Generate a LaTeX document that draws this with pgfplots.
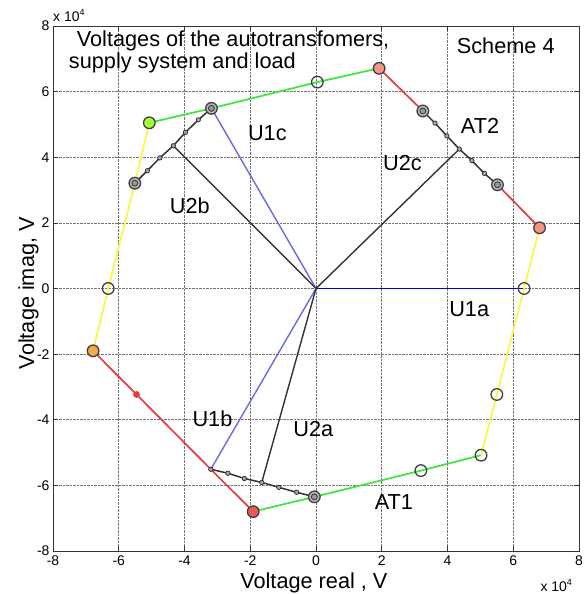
\documentclass[border=0pt]{standalone}
\usepackage{pgfplots}
\pgfplotsset{compat=1.18}
\usepackage{fontspec}
\setmainfont{Liberation Sans}

\definecolor{lgreen}{RGB}{60,230,60}
\definecolor{lred}{RGB}{228,60,60}
\definecolor{lyellow}{RGB}{250,245,70}
\definecolor{dblue}{RGB}{0,0,215}
\definecolor{lblue}{RGB}{105,105,230}
\definecolor{salmon}{RGB}{240,150,130}
\definecolor{orng}{RGB}{240,170,80}

\newcommand{\lbl}{\fontsize{21.7}{24}\selectfont}

\begin{document}
\begin{tikzpicture}
\useasboundingbox (-53pt,-43pt) rectangle (531pt,551pt);
\begin{axis}[
    at={(0,0)}, anchor=south west,
    scale only axis, clip=false,
    width=526pt, height=525pt,
    xmin=-8, xmax=8, ymin=-8, ymax=8,
    xtick={-8,-6,...,8}, ytick={-8,-6,...,8},
    tick align=inside, tick pos=both,
    xticklabel pos=lower, yticklabel pos=left,
    major tick length=5pt,
    grid=major,
    major grid style={densely dotted, black!55, line width=0.7pt},
    axis line style={black!80, line width=0.8pt},
    tick style={black!80, line width=0.7pt},
    ticklabel style={font=\fontsize{14}{14}\selectfont},
    /pgf/number format/assume math mode=true,
    xticklabel style={yshift=-1pt},
    every axis plot/.append style={line width=1.7pt},
]

% phase voltages from the centre
\addplot[dblue, line width=1.4pt] coordinates {(0,0) (6.33,0)};
\addplot[lblue, line width=1.4pt] coordinates {(0,0) (-3.18,5.49)};
\addplot[lblue, line width=1.4pt] coordinates {(0,0) (-3.2,-5.51)};
\addplot[black!80, line width=1.4pt] coordinates {(0,0) (4.36,4.25)};
\addplot[black!80, line width=1.4pt] coordinates {(0,0) (-4.34,4.35)};
\addplot[black!80, line width=1.4pt] coordinates {(0,0) (-1.65,-5.91)};

% supply system sides
\addplot[lgreen] coordinates {(-5.07,5.05) (-3.18,5.49) (0.04,6.29) (1.92,6.71)};
\addplot[lgreen] coordinates {(5.02,-5.08) (3.19,-5.55) (-0.05,-6.35) (-1.91,-6.8)};
\addplot[lred] coordinates {(1.92,6.71) (3.25,5.41)};
\addplot[lred] coordinates {(5.52,3.16) (6.8,1.85)};
\addplot[lred] coordinates {(-6.78,-1.9) (-5.46,-3.23) (-3.2,-5.51) (-1.91,-6.8)};
\addplot[lyellow] coordinates {(6.8,1.85) (6.33,0) (5.5,-3.23) (5.02,-5.08)};
\addplot[lyellow] coordinates {(-6.78,-1.9) (-6.32,0) (-5.51,3.21) (-5.07,5.05)};

% autotransformer windings
\addplot[black!80, line width=1.5pt, mark=*, mark size=2.2pt,
    mark options={fill=gray!70, draw=black!85, line width=0.7pt}]
    coordinates {(3.25,5.41) (3.62,5.04) (3.98,4.65) (4.36,4.25) (4.74,3.9) (5.12,3.51) (5.52,3.16)};
\addplot[black!80, line width=1.5pt, mark=*, mark size=2.2pt,
    mark options={fill=gray!70, draw=black!85, line width=0.7pt}]
    coordinates {(-5.51,3.21) (-5.13,3.59) (-4.75,3.98) (-4.34,4.35) (-3.97,4.76) (-3.58,5.14) (-3.18,5.49)};
\addplot[black!80, line width=1.5pt, mark=*, mark size=2.2pt,
    mark options={fill=gray!70, draw=black!85, line width=0.7pt}]
    coordinates {(-3.2,-5.51) (-2.68,-5.63) (-2.18,-5.79) (-1.65,-5.91) (-1.13,-6.06) (-0.59,-6.21) (-0.05,-6.35)};
\addplot[only marks, mark=*, mark size=2.5pt, mark options={fill=lred, draw=lred}]
    coordinates {(-5.46,-3.23)};

% node circles
\addplot[only marks, mark=o, mark size=5.8pt, mark options={draw=black!75, line width=1.3pt}]
    coordinates {(6.33,0) (5.5,-3.23) (5.02,-5.08) (3.19,-5.55) (0.04,6.29) (-6.32,0)};
\addplot[only marks, mark=*, mark size=5.8pt, mark options={fill=gray!55, draw=black!75, line width=1.3pt}]
    coordinates {(3.25,5.41) (5.52,3.16) (-3.18,5.49) (-5.51,3.21) (-0.05,-6.35)};
\addplot[only marks, mark=*, mark size=3pt, mark options={fill=gray!80, draw=black!80, line width=0.8pt}]
    coordinates {(3.25,5.41) (5.52,3.16) (-3.18,5.49) (-5.51,3.21) (-0.05,-6.35)};
\addplot[only marks, mark=*, mark size=5.8pt, mark options={fill=salmon, draw=black!75, line width=1.3pt}]
    coordinates {(1.92,6.71) (6.8,1.85)};
\addplot[only marks, mark=*, mark size=5.8pt, mark options={fill=orng, draw=black!75, line width=1.3pt}]
    coordinates {(-6.78,-1.9)};
\addplot[only marks, mark=*, mark size=5.8pt, mark options={fill=lred!85, draw=black!75, line width=1.3pt}]
    coordinates {(-1.91,-6.8)};
\addplot[only marks, mark=*, mark size=5.8pt, mark options={fill=green!45!yellow!80, draw=black!75, line width=1.3pt}]
    coordinates {(-5.07,5.05)};

% labels
\node[font=\lbl] at (axis cs:-1.48,4.73) {U1c};
\node[font=\lbl] at (axis cs:-3.84,2.52) {U2b};
\node[font=\lbl] at (axis cs:2.63,3.82) {U2c};
\node[font=\lbl] at (axis cs:4.99,4.96) {AT2};
\node[font=\lbl] at (axis cs:4.66,-0.63) {U1a};
\node[font=\lbl] at (axis cs:-3.15,-3.98) {U1b};
\node[font=\lbl] at (axis cs:-0.08,-4.29) {U2a};
\node[font=\lbl] at (axis cs:2.37,-6.5) {AT1};
\node[font=\lbl, anchor=base west, inner sep=0pt] at (axis cs:-7.28,7.37) {Voltages of the autotransfomers,};
\node[font=\lbl, anchor=base west, inner sep=0pt] at (axis cs:-7.52,6.71) {supply system and load};
\node[font=\lbl, anchor=base west, inner sep=0pt] at (axis cs:4.28,7.17) {Scheme 4};

% axis labels and tick multipliers
\node[font=\lbl, anchor=base, inner sep=0pt] at (rel axis cs:0.496,-0.0705) {Voltage real , V};
\node[font=\lbl, anchor=base, inner sep=0pt, rotate=90] at (rel axis cs:-0.0361,0.491) {Voltage imag, V};
\node[font=\fontsize{14}{14}\selectfont, anchor=base west, inner sep=0pt] at (rel axis cs:0,1.008)
    {x 10\raisebox{6pt}{\fontsize{9}{9}\selectfont 4}};
\node[font=\fontsize{14}{14}\selectfont, anchor=base east, inner sep=0pt] at (rel axis cs:0.987,-0.078)
    {x 10\raisebox{6pt}{\fontsize{9}{9}\selectfont 4}};
\end{axis}
\end{tikzpicture}
\end{document}
